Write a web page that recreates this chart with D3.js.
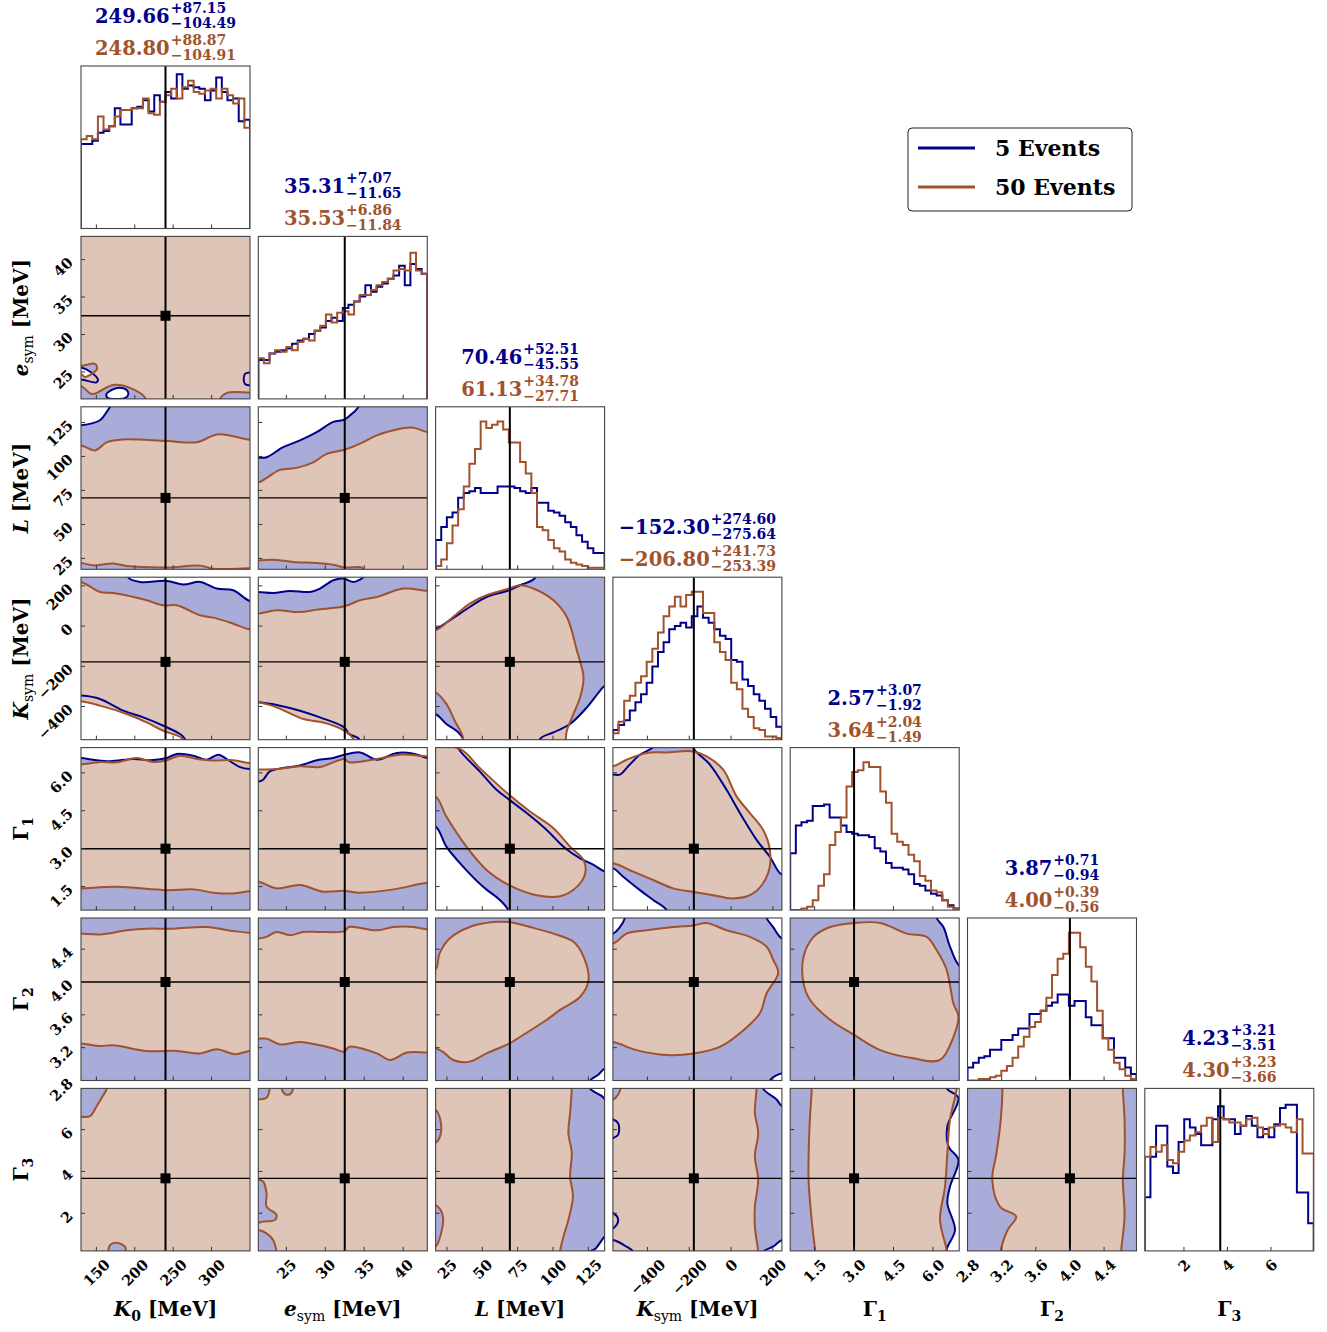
<!DOCTYPE html>
<html><head><meta charset="utf-8">
<script src="https://cdn.jsdelivr.net/npm/d3@7"></script>
<style>body{margin:0;background:#fff}</style>
</head><body><svg id="chart" width="1327" height="1332"></svg>
<script>
// ---------- data ----------
const paramKeys = ["K0","esym","L","Ksym","G1","G2","G3"];
const domains = [[130,350],[21.4,43.1],[17,136.5],[-565,243],[0.57,7.0],[2.8,4.78],[0.2,7.97]];
const truths = [240, 32.5, 69.5, -178, 3.0, 4.0, 3.67];
const tickValues = [[150,200,250,300],[25,30,35,40],[25,50,75,100,125],[-400,-200,0,200],[1.5,3.0,4.5,6.0],[2.8,3.2,3.6,4.0,4.4],[2,4,6]];
const tickDecimals = [0,0,0,0,1,1,0];

const blueMedian = ["249.66","35.31","70.46","\u2212152.30","2.57","3.87","4.23"];
const blueUp     = ["+87.15","+7.07","+52.51","+274.60","+3.07","+0.71","+3.21"];
const blueDown   = ["\u2212104.49","\u221211.65","\u221245.55","\u2212275.64","\u22121.92","\u22120.94","\u22123.51"];
const brownMedian= ["248.80","35.53","61.13","\u2212206.80","3.64","4.00","4.30"];
const brownUp    = ["+88.87","+6.86","+34.78","+241.73","+2.04","+0.39","+3.23"];
const brownDown  = ["\u2212104.91","\u221211.84","\u221227.71","\u2212253.39","\u22121.49","\u22120.56","\u22123.66"];

const seriesNames = ["5 Events","50 Events"];

// histogram heights (relative density, 30 bins across each axis range)
const histBlue = [
 [0.52,0.52,0.54,0.59,0.60,0.63,0.74,0.64,0.64,0.74,0.75,0.79,0.72,0.82,0.78,0.84,0.80,0.95,0.86,0.88,0.87,0.86,0.79,0.85,0.93,0.84,0.79,0.80,0.66,0.67],
 [0.24,0.24,0.28,0.29,0.30,0.31,0.34,0.36,0.37,0.40,0.42,0.44,0.48,0.50,0.48,0.56,0.58,0.60,0.63,0.70,0.66,0.69,0.71,0.74,0.76,0.82,0.70,0.83,0.80,0.77],
 [0.18,0.26,0.32,0.35,0.44,0.47,0.48,0.50,0.47,0.47,0.47,0.51,0.51,0.51,0.50,0.48,0.47,0.50,0.41,0.41,0.36,0.35,0.33,0.29,0.26,0.21,0.17,0.13,0.10,0.10],
 [0.06,0.09,0.12,0.18,0.23,0.28,0.35,0.45,0.54,0.60,0.68,0.70,0.72,0.69,0.76,0.82,0.75,0.72,0.68,0.64,0.62,0.49,0.48,0.37,0.33,0.28,0.24,0.19,0.14,0.08],
 [0.35,0.52,0.54,0.55,0.64,0.64,0.65,0.57,0.57,0.52,0.48,0.47,0.46,0.46,0.45,0.38,0.36,0.29,0.26,0.26,0.25,0.22,0.16,0.15,0.12,0.10,0.09,0.06,0.03,0.01],
 [0.08,0.11,0.14,0.15,0.19,0.19,0.25,0.25,0.28,0.32,0.32,0.41,0.41,0.43,0.46,0.48,0.53,0.53,0.46,0.49,0.49,0.39,0.34,0.34,0.26,0.26,0.14,0.14,0.08,0.04],
 [0.33,0.58,0.77,0.77,0.52,0.48,0.67,0.81,0.76,0.72,0.65,0.65,0.81,0.89,0.81,0.81,0.72,0.77,0.83,0.77,0.70,0.75,0.70,0.78,0.88,0.90,0.90,0.36,0.36,0.17]
];
const histBrown = [
 [0.55,0.57,0.55,0.69,0.61,0.63,0.69,0.73,0.73,0.74,0.74,0.80,0.71,0.70,0.78,0.82,0.86,0.80,0.87,0.91,0.84,0.83,0.85,0.86,0.80,0.86,0.82,0.77,0.80,0.62],
 [0.25,0.22,0.28,0.30,0.29,0.32,0.30,0.35,0.37,0.36,0.42,0.45,0.52,0.47,0.53,0.54,0.52,0.60,0.64,0.64,0.67,0.70,0.72,0.74,0.79,0.80,0.79,0.90,0.79,0.77],
 [0.02,0.06,0.16,0.27,0.37,0.51,0.65,0.74,0.91,0.87,0.89,0.91,0.86,0.78,0.78,0.66,0.59,0.47,0.26,0.24,0.18,0.13,0.11,0.06,0.04,0.03,0.02,0.01,0.01,0.01],
 [0.04,0.11,0.24,0.27,0.35,0.39,0.48,0.56,0.66,0.76,0.82,0.88,0.82,0.89,0.91,0.91,0.78,0.78,0.60,0.54,0.49,0.35,0.31,0.19,0.14,0.07,0.06,0.02,0.02,0.01],
 [0.00,0.00,0.01,0.02,0.06,0.15,0.22,0.40,0.48,0.57,0.76,0.85,0.86,0.91,0.88,0.88,0.73,0.66,0.47,0.42,0.40,0.34,0.30,0.21,0.18,0.12,0.11,0.06,0.02,0.01],
 [0.00,0.00,0.01,0.01,0.02,0.03,0.06,0.09,0.14,0.21,0.27,0.33,0.36,0.43,0.51,0.65,0.75,0.78,0.91,0.91,0.82,0.70,0.61,0.43,0.26,0.19,0.11,0.07,0.03,0.01],
 [0.58,0.64,0.61,0.65,0.56,0.54,0.61,0.68,0.71,0.73,0.77,0.82,0.67,0.82,0.81,0.79,0.79,0.77,0.81,0.82,0.76,0.72,0.76,0.77,0.78,0.76,0.73,0.81,0.60,0.60]
];

// credible-region contours (data units; rings, holes drawn with even-odd)
const c_esym_K0 = {
 blue:[[[110,19],[370,19],[370,45.5],[110,45.5]],
       [[110,25.6],[130,25.6],[143.9,24.9],[152,24.0],[150,23.6],[130,24.0],[110,24.0]],
       [[163,22.0],[170,22.6],[180,22.9],[189.5,22.6],[191.6,22.0],[187.3,21.5],[175,21.4],[165,21.5]],
       [[360,24.74],[343.5,24.74],[343.5,23.4],[360,23.4]]],
 brown:[[[110,23.13],[130,23.13],[144.3,22.06],[171.7,23.27],[193.8,22.87],[214.6,21.4],[215,19],[311,19],[311,21.4],[320,22.2],[350,22.24],[370,22.24],[370,45.5],[110,45.5]],
        [[110,25.8],[130,25.8],[148.2,26.08],[150.8,25.41],[135.2,24.34],[130,24.7],[110,24.7]]]
};
const c_L_K0 = {
 blue:[[[110,5],[370,5],[370,150],[171,150],[169,138.5],[167.8,136.5],[163.5,132.8],[154.7,126.6],[130,122.9],[110,122.9]]],
 brown:[[[110,108.1],[130,108.1],[148.2,104.4],[163.9,110.5],[184.7,112.5],[242,111.3],[281,110.5],[308.4,116.3],[350,112.3],[370,112.3],[370,17.7],[350,17.7],[301.9,17.5],[284.9,19.7],[242,18.4],[193.8,19.2],[171.7,21.2],[145.6,19.9],[130,21.6],[110,21.6]]]
};
const c_Ksym_K0 = {
 blue:[[[110,330],[191.6,330],[191.6,241.5],[206.8,219.5],[241.6,224.5],[263.2,206.6],[284.9,219.5],[306.7,186.6],[328.3,178],[350,124.7],[370,124.7],[370,-650],[268,-650],[265.4,-561.9],[258.9,-536.9],[237.2,-495.5],[211.1,-454.1],[185,-420.7],[154.7,-362.3],[130,-345.8],[110,-345.8]]],
 brown:[[[110,219.5],[130,219.5],[154.7,169.6],[172,164.7],[198.1,144.7],[215.5,128.2],[237.2,103.3],[254.6,103.3],[284.9,53.4],[302.2,41.9],[328.3,11.9],[350,-16.5],[370,-16.5],[370,-650],[265,-650],[263.2,-565.4],[258.9,-550.4],[237.2,-520.5],[215.5,-479.1],[189.5,-437.2],[154.7,-395.7],[130,-374.3],[110,-374.3]]]
};
const c_G1_K0 = {
 blue:[[[110,0.2],[370,0.2],[370,6.15],[350,6.15],[337,6.23],[324,6.46],[308.8,6.72],[293.6,6.52],[276.2,6.68],[254.6,6.75],[241.6,6.59],[219.8,6.50],[198.1,6.55],[167.8,6.46],[146,6.52],[130,6.59],[110,6.59]]],
 brown:[[[110,6.33],[130,6.33],[154.7,6.43],[176.5,6.42],[202.5,6.59],[224.1,6.43],[241.6,6.50],[258.9,6.68],[280.6,6.55],[302.2,6.49],[328.3,6.50],[350,6.39],[370,6.39],[370,1.32],[350,1.32],[328.3,1.23],[302.2,1.26],[276.2,1.39],[241.6,1.36],[176.5,1.49],[130,1.43],[110,1.43]]]
};
const c_G2_K0 = {
 blue:[[[110,2.7],[370,2.7],[370,4.9],[110,4.9]]],
 brown:[[[110,4.59],[130,4.59],[154.7,4.58],[189.5,4.63],[215.5,4.65],[250.2,4.65],[293.6,4.67],[328.3,4.62],[350,4.60],[370,4.60],[370,3.16],[350,3.16],[330.5,3.12],[306.7,3.18],[284.9,3.13],[254.6,3.16],[215.5,3.16],[172,3.23],[154.7,3.22],[130,3.25],[110,3.25]]]
};
const c_G3_K0 = {
 blue:[[[110,-0.2],[370,-0.2],[370,8.4],[110,8.4]]],
 brown:[[[110,-0.2],[370,-0.2],[370,8.4],[110,8.4]],
        [[110,6.61],[130,6.61],[141.7,6.64],[150.4,7.12],[157,7.52],[163.5,7.96],[164,8.4],[110,8.4]],
        [[165.5,-0.2],[165.5,0.16],[167.8,0.48],[176.5,0.59],[187.3,0.40],[188.6,0.16],[188.6,-0.2]]]
};
const c_L_esym = {
 blue:[[[19,5],[45.5,5],[45.5,150],[34.5,150],[34.25,136.5],[33.19,130.3],[32.45,127.1],[31.03,125.4],[28.9,117.9],[26.75,111.8],[24.59,106.8],[22.46,99.4],[21.43,99],[19,99]]],
 brown:[[[19,80.9],[21.43,80.9],[22.46,84.2],[24.17,90.1],[26.32,91.6],[28.46,95.7],[30.18,101.9],[32.45,104.9],[34.47,109.4],[36.62,115.5],[38.76,119.2],[41.13,121.2],[43.14,118],[45.5,118],[45.5,5],[35,5],[34.9,16.7],[34.69,18.4],[32.45,18.4],[31.03,20.4],[28.9,21.6],[25.88,22.4],[23.31,24.1],[21.43,23.4],[19,23.4]]]
};
const c_Ksym_esym = {
 blue:[[[19,169.6],[21.43,169.6],[23.31,164.7],[25.46,174.6],[28.03,169.6],[29.32,186.6],[31.03,228],[32.32,236.5],[33.61,219.5],[34.47,231.5],[34.9,244.5],[35,330],[45.5,330],[45.5,-650],[34.5,-650],[34.34,-561.9],[33.05,-537],[32.45,-504],[29.32,-454.1],[26.75,-420.7],[24.17,-395.7],[21.43,-379.3],[19,-379.3]]],
 brown:[[[19,61.9],[21.43,61.9],[23.74,78.3],[26.75,69.8],[28.9,81.8],[32.45,98.3],[34.47,128.2],[36.62,144.7],[40.05,186.6],[43.14,174.6],[45.5,174.6],[45.5,-650],[33.7,-650],[33.61,-561.9],[32.32,-517],[29.75,-479.1],[27.17,-462.1],[23.74,-404.2],[21.43,-379.3],[19,-379.3]]]
};
const c_G1_esym = {
 blue:[[[19,0.2],[45.5,0.2],[45.5,6.59],[43.14,6.59],[41.34,6.76],[39.2,6.79],[36.62,6.52],[34.47,6.81],[32.45,6.72],[31.03,6.59],[28.9,6.5],[26.75,6.29],[24.59,6.19],[22.88,6.06],[22.02,5.73],[21.43,5.66],[19,5.66]]],
 brown:[[[19,6.13],[21.43,6.13],[23.74,6.15],[26.75,6.26],[29.32,6.23],[32.45,6.55],[33.05,6.42],[36.62,6.55],[39.62,6.72],[43.14,6.65],[45.5,6.65],[45.5,1.65],[43.14,1.65],[38.76,1.39],[34.34,1.26],[32.45,1.33],[29.75,1.30],[26.75,1.56],[23.74,1.43],[21.43,1.69],[19,1.69]]]
};
const c_G2_esym = {
 blue:[[[19,2.7],[45.5,2.7],[45.5,4.9],[19,4.9]]],
 brown:[[[19,4.53],[21.43,4.53],[22.46,4.55],[23.74,4.61],[25.46,4.57],[27.17,4.61],[29.32,4.61],[32.45,4.62],[33.05,4.67],[36.62,4.63],[38.76,4.67],[41.34,4.67],[43.14,4.64],[45.5,4.64],[45.5,3.14],[43.14,3.14],[40.49,3.14],[38.33,3.05],[36.62,3.13],[33.05,3.21],[32.45,3.15],[31.03,3.19],[29.32,3.23],[26.75,3.27],[24.17,3.24],[22.46,3.31],[21.43,3.31],[19,3.31]]]
};
const c_G3_esym = {
 blue:[[[19,-0.2],[45.5,-0.2],[45.5,8.4],[19,8.4]]],
 brown:[[[19,-0.2],[45.5,-0.2],[45.5,8.4],[19,8.4]],
        [[19,7.44],[21.43,7.44],[22.46,7.52],[22.88,7.96],[23,8.4],[19,8.4]],
        [[24.39,8.4],[24.39,7.96],[24.8,7.7],[25.5,7.7],[25.88,7.96],[25.88,8.4]],
        [[19,3.6],[21.43,3.6],[22.02,3.52],[22.46,2.96],[22.46,2.32],[23.74,1.92],[23.53,1.68],[22.02,1.6],[21.43,1.55],[19,1.55]],
        [[19,1.2],[21.43,1.2],[22.46,1.04],[23.31,0.72],[23.74,0.16],[23.8,-0.2],[19,-0.2]]]
};
const c_Ksym_L = {
 blue:[[[5,-13],[16.8,-13],[26.9,28.4],[41.1,94.8],[53,144.7],[69,178.1],[76.6,203.1],[87.3,239.5],[88,330],[150,330],[150,-295.9],[137,-295.9],[133.4,-320.9],[124,-404.2],[112.1,-487],[100.3,-528.9],[90.8,-561.9],[90,-650],[37,-650],[36.4,-561.9],[31.7,-520.5],[24.6,-487],[16.8,-437.1],[5,-437.1]]],
 brown:[[[5,-21.5],[16.8,-21.5],[29.3,44.9],[41.1,111.8],[53,153.2],[69,186.6],[76.6,203.1],[86.1,186.6],[100.3,128.2],[109.8,44.9],[116.9,-121.3],[121.6,-254.5],[119.2,-354.3],[114.5,-437.1],[109.8,-520.5],[109.1,-561.9],[109,-650],[37,-650],[36.4,-553.9],[30.5,-470.6],[24.6,-387.2],[16.8,-329.4],[5,-329.4]]]
};
const c_G1_L = {
 blue:[[[5,7.4],[31,7.4],[32.8,6.99],[48.2,6.06],[60.1,5.33],[69,4.94],[81.4,4.41],[95.6,3.74],[107.4,3.08],[119.2,2.62],[128.7,2.36],[137,2.09],[150,2.09],[150,0.2],[69,0.2],[68.3,0.57],[62.4,0.97],[50.6,1.49],[36.4,2.29],[24.6,3.08],[16.8,3.88],[5,3.88]]],
 brown:[[[5,6.95],[34,6.95],[48.2,6.19],[69,5.13],[83.7,4.47],[100.3,3.81],[112.1,3.08],[121.6,2.55],[122.8,2.03],[116.9,1.49],[105,1.12],[88.5,1.16],[69,1.56],[53,2.16],[38.8,3.08],[24.6,4.27],[16.8,5.07],[5,5.07]]]
};
const c_G2_L = {
 blue:[[[5,2.7],[125,2.7],[126.3,2.8],[132,2.87],[137,2.95],[150,2.95],[150,4.9],[5,4.9]]],
 brown:[[[5,4.15],[16.8,4.15],[19.8,4.35],[26.9,4.53],[41.1,4.67],[57.7,4.73],[69,4.73],[83.7,4.67],[100.3,4.59],[114.5,4.49],[121.6,4.31],[125.1,4.02],[119.2,3.82],[105,3.66],[95.6,3.54],[76.6,3.33],[69,3.25],[53,3.13],[41.1,3.03],[29.3,3.05],[22.2,3.15],[16.8,3.19],[5,3.19]]]
};
const c_G3_L = {
 blue:[[[5,-0.2],[125,-0.2],[126.3,0.16],[130,0.3],[134.6,0.72],[137,0.9],[150,0.9],[150,7.44],[137,7.44],[134.6,7.6],[126.3,7.96],[126,8.4],[5,8.4]]],
 brown:[[[5,-0.2],[105,-0.2],[105,0.16],[107.4,0.88],[110.9,1.68],[114.1,2.8],[112.1,3.76],[113.3,4.88],[110.9,5.84],[112.1,6.8],[113.3,7.96],[113.3,8.4],[5,8.4]],
        [[5,6.96],[16.8,6.96],[21,6.0],[16.8,5.36],[5,5.36]],
        [[5,2.4],[16.8,2.4],[22.2,1.84],[18.6,0.56],[16.8,0.4],[5,0.4]]]
};
const c_G1_Ksym = {
 blue:[[[-650,5.93],[-563.6,5.93],[-531.5,5.93],[-491.9,6.26],[-435.9,6.72],[-372.4,7.03],[-370,7.4],[-185,7.4],[-181.2,6.99],[-101.3,6.33],[-21.5,5.33],[42.1,4.41],[121.9,3.35],[185.5,2.68],[244.3,1.96],[330,1.96],[330,0.2],[-300,0.2],[-308.3,0.57],[-372.4,0.97],[-435.9,1.36],[-515.8,1.89],[-563.6,2.22],[-650,2.22]]],
 brown:[[[-650,6.26],[-563.6,6.26],[-499.5,6.52],[-403.9,6.79],[-308.3,6.81],[-181.2,6.85],[-117.1,6.65],[-37.8,6.13],[26.3,5.07],[89.9,4.41],[153.4,3.74],[185.5,2.95],[177.3,2.03],[105.6,1.23],[10,1.03],[-85.6,1.16],[-177.8,1.29],[-276.8,1.43],[-372.4,1.76],[-468,2.09],[-563.6,2.42],[-650,2.42]]]
};
const c_G2_Ksym = {
 blue:[[[-650,2.7],[180,2.7],[185.5,2.8],[244.3,2.89],[330,2.89],[330,4.53],[244.3,4.53],[201.3,4.67],[169.7,4.78],[165,4.9],[-505,4.9],[-507.6,4.78],[-531.5,4.67],[-563.6,4.59],[-650,4.59]]],
 brown:[[[-650,4.47],[-563.6,4.47],[-499.5,4.59],[-403.9,4.63],[-276.8,4.67],[-177.8,4.69],[-117.1,4.72],[-21.5,4.63],[89.9,4.55],[169.7,4.43],[201.3,4.27],[225.2,4.11],[169.7,3.86],[137.7,3.62],[57.9,3.41],[-53.5,3.21],[-177.8,3.13],[-308.3,3.11],[-451.7,3.17],[-563.6,3.27],[-650,3.27]]]
};
const c_G3_Ksym = {
 blue:[[[-650,0.72],[-563.6,0.72],[-499.5,0.4],[-468,0.16],[-465,-0.2],[150,-0.2],[153.4,0.16],[200,0.4],[244.3,0.72],[330,0.72],[330,7.12],[244.3,7.12],[217.5,7.44],[153.4,7.96],[150,8.4],[-650,8.4]],
       [[-650,6.48],[-563.6,6.48],[-539.7,6.3],[-539.7,5.76],[-563.6,5.6],[-650,5.6]],
       [[-650,2.0],[-563.6,2.0],[-539.7,1.68],[-563.6,1.28],[-650,1.28]]],
 brown:[[[-650,-0.2],[130,-0.2],[129.6,0.16],[113.8,1.36],[113.8,2.32],[129.6,3.6],[113.8,4.72],[129.6,5.84],[113.8,6.8],[121.9,7.96],[122,8.4],[-650,8.4]],
        [[-650,7.44],[-563.6,7.44],[-539.7,7.68],[-528,7.96],[-527,8.4],[-650,8.4]]]
};
const c_G2_G1 = {
 blue:[[[0.2,2.7],[7.4,2.7],[7.4,4.19],[7.03,4.19],[6.65,4.43],[6.4,4.67],[6.14,4.78],[6.1,4.9],[0.2,4.9]]],
 brown:[[[1.08,4.31],[1.46,4.55],[2.09,4.67],[3.03,4.72],[4.0,4.72],[5.0,4.59],[5.76,4.55],[6.14,4.39],[6.52,4.15],[6.78,3.74],[6.97,3.58],[6.78,3.33],[6.27,3.05],[5.26,3.07],[4.0,3.17],[3.03,3.35],[2.09,3.54],[1.33,3.78],[1.08,3.98]]]
};
const c_G3_G1 = {
 blue:[[[0.2,-0.2],[6.6,-0.2],[6.52,0.24],[6.84,1.2],[6.55,2.48],[6.65,3.28],[6.97,4.56],[6.59,5.2],[6.55,6.16],[6.97,7.52],[6.52,7.97],[6.5,8.4],[0.2,8.4]]],
 brown:[[[1.39,8.4],[1.39,7.97],[1.3,6.0],[1.27,3.6],[1.4,1.5],[1.52,0.16],[1.52,-0.2],[6.52,-0.2],[6.52,0.24],[6.27,1.68],[6.46,3.28],[6.55,4.88],[6.65,6.48],[6.9,7.92],[6.9,8.4]]]
};
const c_G3_G2 = {
 blue:[[[2.7,-0.2],[4.9,-0.2],[4.9,8.4],[2.7,8.4]]],
 brown:[[[3.21,8.4],[3.21,7.92],[3.19,6.48],[3.14,4.88],[3.09,3.6],[3.18,2.32],[3.37,1.84],[3.27,1.2],[3.19,0.19],[3.19,-0.2],[4.6,-0.2],[4.6,0.19],[4.64,1.84],[4.62,3.6],[4.64,4.88],[4.64,6.48],[4.62,7.92],[4.62,8.4]]]
};
// [row, col, contour set]
const contourPanels = [
 [1,0,c_esym_K0],
 [2,0,c_L_K0],[2,1,c_L_esym],
 [3,0,c_Ksym_K0],[3,1,c_Ksym_esym],[3,2,c_Ksym_L],
 [4,0,c_G1_K0],[4,1,c_G1_esym],[4,2,c_G1_L],[4,3,c_G1_Ksym],
 [5,0,c_G2_K0],[5,1,c_G2_esym],[5,2,c_G2_L],[5,3,c_G2_Ksym],[5,4,c_G2_G1],
 [6,0,c_G3_K0],[6,1,c_G3_esym],[6,2,c_G3_L],[6,3,c_G3_Ksym],[6,4,c_G3_G1],[6,5,c_G3_G2]
];

// axis labels: [text, italic, subscript]
const axisLabels = [
 [["K",true,false],["0",false,true],[" [MeV]",false,false]],
 [["e",true,false],["sym",false,true],[" [MeV]",false,false]],
 [["L",true,false],[" [MeV]",false,false]],
 [["K",true,false],["sym",false,true],[" [MeV]",false,false]],
 [["\u0393",false,false],["1",false,true]],
 [["\u0393",false,false],["2",false,true]],
 [["\u0393",false,false],["3",false,true]]
];

// ---------- style / layout ----------
const BLUE = "#00008b", BROWN = "#a0522d";
const BLUE_FILL = "#a9abd9", BROWN_FILL = "#dfc5b7";
const FONT = "DejaVu Serif";
const L0 = 81, T0 = 66, PW = 169, PH = 162.5, DX = 177.3, DY = 170.4;
const N = paramKeys.length;

const svg = d3.select("#chart");
svg.append("rect").attr("width",1327).attr("height",1332).attr("fill","#fff");
const defs = svg.append("defs");

function px(c){ return L0 + c*DX; }
function py(r){ return T0 + r*DY; }
function xScale(c){ return d3.scaleLinear().domain(domains[c]).range([px(c), px(c)+PW]); }
function yScale(r){ return d3.scaleLinear().domain(domains[r]).range([py(r)+PH, py(r)]); }
function fmt(v,d){ return (v<0?"\u2212":"") + Math.abs(v).toFixed(d); }

function addClip(id, r, c){
  defs.append("clipPath").attr("id",id).append("rect")
    .attr("x",px(c)).attr("y",py(r)).attr("width",PW).attr("height",PH);
}

function frameAndTicks(r, c, withY){
  const g = svg.append("g");
  const x = xScale(c), yb = py(r)+PH;
  tickValues[c].forEach(t=>{
    g.append("line").attr("x1",x(t)).attr("x2",x(t)).attr("y1",yb).attr("y2",yb-4)
      .attr("stroke","#333").attr("stroke-width",1);
  });
  if(withY){
    const y = yScale(r);
    tickValues[r].forEach(t=>{
      g.append("line").attr("x1",px(c)).attr("x2",px(c)+4).attr("y1",y(t)).attr("y2",y(t))
        .attr("stroke","#333").attr("stroke-width",1);
    });
  }
  g.append("rect").attr("x",px(c)).attr("y",py(r)).attr("width",PW).attr("height",PH)
    .attr("fill","none").attr("stroke","#444").attr("stroke-width",1.1);
}

// ---------- 2D panels ----------
contourPanels.forEach(([r,c,set],i)=>{
  const id = "clip2d"+i;
  addClip(id,r,c);
  const x = xScale(c), y = yScale(r);
  const line = d3.line().x(d=>x(d[0])).y(d=>y(d[1])).curve(d3.curveCatmullRomClosed.alpha(0.5));
  const pathOf = rings => rings.map(rg=>line(rg)).join(" ");
  const g = svg.append("g").attr("clip-path",`url(#${id})`);
  g.append("path").attr("d",pathOf(set.blue)).attr("fill",BLUE_FILL).attr("fill-rule","evenodd");
  g.append("path").attr("d",pathOf(set.brown)).attr("fill",BROWN_FILL).attr("fill-rule","evenodd");
  g.append("path").attr("d",pathOf(set.blue)).attr("fill","none").attr("stroke",BLUE).attr("stroke-width",2);
  g.append("path").attr("d",pathOf(set.brown)).attr("fill","none").attr("stroke",BROWN).attr("stroke-width",2);
  // truth
  g.append("line").attr("x1",x(truths[c])).attr("x2",x(truths[c])).attr("y1",py(r)).attr("y2",py(r)+PH)
    .attr("stroke","#000").attr("stroke-width",2);
  g.append("line").attr("x1",px(c)).attr("x2",px(c)+PW).attr("y1",y(truths[r])).attr("y2",y(truths[r]))
    .attr("stroke","#000").attr("stroke-width",1.4);
  g.append("rect").attr("x",x(truths[c])-5).attr("y",y(truths[r])-5).attr("width",10).attr("height",10).attr("fill","#000");
  frameAndTicks(r,c,true);
});

// ---------- 1D histograms ----------
for(let k=0;k<N;k++){
  const id = "cliph"+k;
  addClip(id,k,k);
  const x = xScale(k);
  const y = d3.scaleLinear().domain([0,1]).range([py(k)+PH, py(k)]);
  const nb = histBlue[k].length;
  const edge = i => domains[k][0] + (domains[k][1]-domains[k][0])*i/nb;
  const g = svg.append("g").attr("clip-path",`url(#${id})`);
  [[histBlue[k],BLUE],[histBrown[k],BROWN]].forEach(([vals,col])=>{
    const pts = [[edge(0),0]];
    vals.forEach((v,i)=>{ pts.push([edge(i),v]); pts.push([edge(i+1),v]); });
    pts.push([edge(nb),0]);
    g.append("path").attr("d",d3.line().x(d=>x(d[0])).y(d=>y(d[1]))(pts))
      .attr("fill","none").attr("stroke",col).attr("stroke-width",2);
  });
  g.append("line").attr("x1",x(truths[k])).attr("x2",x(truths[k])).attr("y1",py(k)).attr("y2",py(k)+PH)
    .attr("stroke","#000").attr("stroke-width",2);
  frameAndTicks(k,k,false);
}

// ---------- titles ----------
function titleLine(cx, base, main, up, down, col){
  const g = svg.append("g");
  const t = g.append("text").attr("x",0).attr("y",base).text(main)
    .attr("font-family",FONT).attr("font-weight","bold").attr("font-size",19.5).attr("fill",col);
  const w = t.node().getComputedTextLength();
  const s1 = g.append("text").attr("x",w+1).attr("y",base-10).text(up)
    .attr("font-family",FONT).attr("font-weight","bold").attr("font-size",14).attr("fill",col);
  const s2 = g.append("text").attr("x",w+1).attr("y",base+5).text(down)
    .attr("font-family",FONT).attr("font-weight","bold").attr("font-size",14).attr("fill",col);
  const tw = w + 1 + Math.max(s1.node().getComputedTextLength(), s2.node().getComputedTextLength());
  g.attr("transform",`translate(${cx - tw/2},0)`);
}
for(let k=0;k<N;k++){
  const cx = px(k)+PW/2;
  titleLine(cx, py(k)-43, blueMedian[k], blueUp[k], blueDown[k], BLUE);
  titleLine(cx, py(k)-11, brownMedian[k], brownUp[k], brownDown[k], BROWN);
}

// ---------- tick labels ----------
for(let c=0;c<N;c++){
  const x = xScale(c), yb = py(N-1)+PH;
  tickValues[c].forEach(t=>{
    const tx = svg.append("text").text(fmt(t,tickDecimals[c]))
      .attr("font-family",FONT).attr("font-weight","bold").attr("font-size",14.5)
      .attr("text-anchor","middle").attr("dominant-baseline","central");
    const w = tx.node().getComputedTextLength();
    const cy = yb + 7 + (w+11)*0.7071/2;
    tx.attr("transform",`translate(${x(t)},${cy}) rotate(-45)`);
  });
}
for(let r=1;r<N;r++){
  const y = yScale(r);
  tickValues[r].forEach(t=>{
    svg.append("text").text(fmt(t,tickDecimals[r]))
      .attr("font-family",FONT).attr("font-weight","bold").attr("font-size",14.5)
      .attr("text-anchor","end").attr("dominant-baseline","central")
      .attr("transform",`translate(${px(0)-11},${y(t)}) rotate(-45)`);
  });
}

// ---------- axis labels ----------
function richLabel(sel, parts){
  parts.forEach(([s,it,sub],i)=>{
    const ts = sel.append("tspan").text(s);
    if(it) ts.attr("font-style","italic");
    if(sub){ ts.attr("font-size",14).attr("dy",5).attr("font-weight", s.length>1?"normal":"bold"); }
    else if(i>0 && parts[i-1][2]) ts.attr("dy",-5);
  });
}
for(let c=0;c<N;c++){
  const t = svg.append("text").attr("x",px(c)+PW/2).attr("y",1316)
    .attr("font-family",FONT).attr("font-weight","bold").attr("font-size",20).attr("text-anchor","middle");
  richLabel(t, axisLabels[c]);
}
for(let r=1;r<N;r++){
  const t = svg.append("text").attr("transform",`translate(28,${py(r)+PH/2}) rotate(-90)`)
    .attr("font-family",FONT).attr("font-weight","bold").attr("font-size",20).attr("text-anchor","middle");
  richLabel(t, axisLabels[r]);
}

// ---------- legend ----------
const lg = svg.append("g");
lg.append("rect").attr("x",908).attr("y",128).attr("width",224).attr("height",83).attr("rx",4)
  .attr("fill","#fff").attr("stroke","#222").attr("stroke-width",1);
[[BLUE,seriesNames[0],148],[BROWN,seriesNames[1],187]].forEach(([col,name,yy])=>{
  lg.append("line").attr("x1",918).attr("x2",975).attr("y1",yy).attr("y2",yy).attr("stroke",col).attr("stroke-width",3);
  lg.append("text").attr("x",995).attr("y",yy+8).text(name)
    .attr("font-family",FONT).attr("font-weight","bold").attr("font-size",22).attr("fill","#000");
});
</script></body></html>
